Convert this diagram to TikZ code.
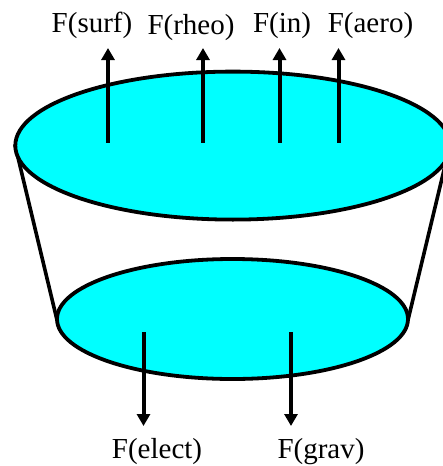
\documentclass[tikz,border=0pt]{standalone}
\usepackage{fontspec}
\setmainfont{Liberation Serif}
\usetikzlibrary{shapes.geometric,arrows.meta}
\definecolor{discfill}{rgb}{0,1,1}
\tikzset{
  disc/.style={ellipse,draw=black,line width=3.8pt,fill=discfill,inner sep=0pt,outer sep=0pt},
  lab/.style={font=\fontsize{29pt}{32pt}\selectfont,inner sep=0pt,anchor=base},
  force/.style={line width=4pt,-{Triangle[length=12pt,width=13pt]}},
  wall/.style={line width=3.6pt,line cap=round}
}
\begin{document}
\begin{tikzpicture}[x=1pt,y=-1pt]
\useasboundingbox (0,0) rectangle (442,466);
\draw[wall] (15,145) -- (57,320);
\draw[wall] (450,145) -- (408,320);
\node[disc,minimum width=435pt,minimum height=148pt] (top) at (232.8,145.6) {};
\node[disc,minimum width=351pt,minimum height=120pt] (bot) at (232.5,319) {};
\coordinate (a1) at (108,142.5); \node[lab] (l1) at (92,32) {F(surf)};
\coordinate (a2) at (203,142.5); \node[lab] (l2) at (191,34.5) {F(rheo)};
\coordinate (a3) at (279.5,142.5); \node[lab] (l3) at (282,32) {F(in)};
\coordinate (a4) at (338.5,142.5); \node[lab] (l4) at (370.5,32) {F(aero)};
\coordinate (b1) at (108,48); \coordinate (b2) at (203,48); \coordinate (b3) at (279.5,48); \coordinate (b4) at (338.5,48);
\draw[force] (a1) -- (b1);
\draw[force] (a2) -- (b2);
\draw[force] (a3) -- (b3);
\draw[force] (a4) -- (b4);
\coordinate (c1) at (143.5,332); \coordinate (d1) at (143.5,426);
\coordinate (c2) at (291,332); \coordinate (d2) at (291,426);
\draw[force] (c1) -- (d1);
\draw[force] (c2) -- (d2);
\node[lab] (l5) at (157,458) {F(elect)};
\node[lab] (l6) at (321,458) {F(grav)};
\end{tikzpicture}
\end{document}
